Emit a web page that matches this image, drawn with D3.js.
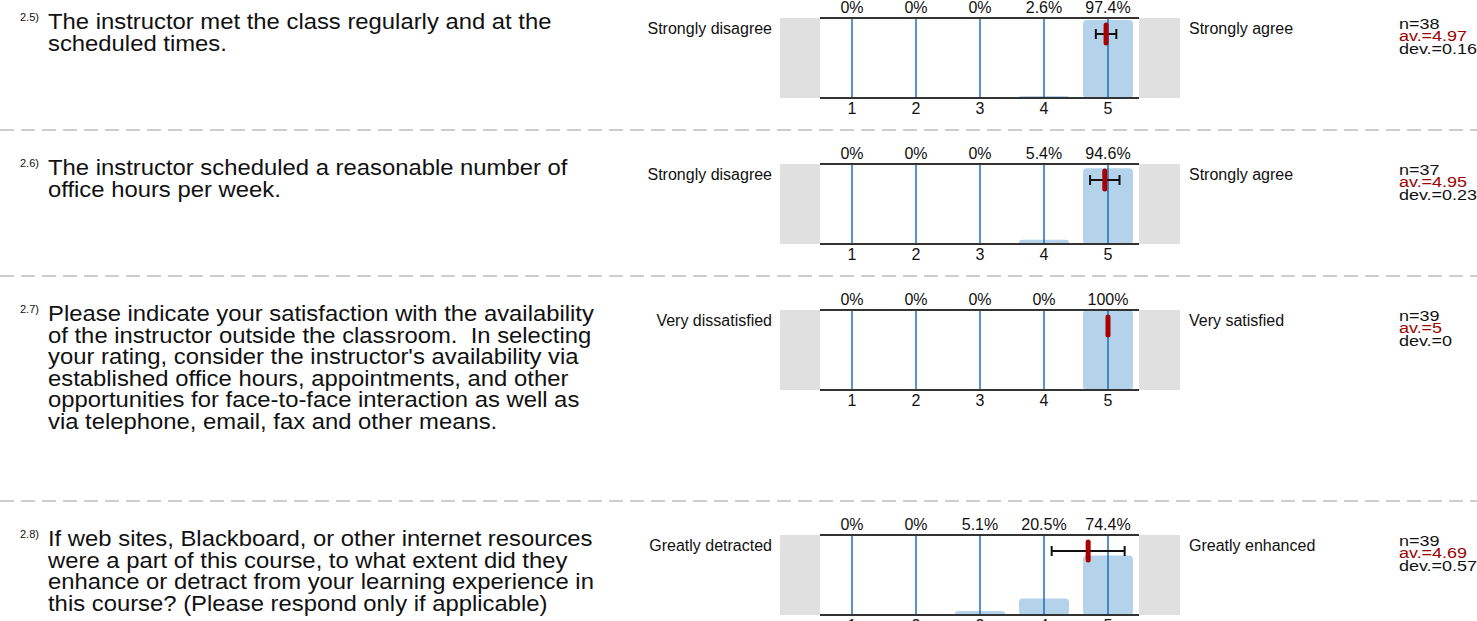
<!DOCTYPE html>
<html>
<head>
<meta charset="utf-8">
<script src="https://cdn.jsdelivr.net/npm/d3@7"></script>
<style>
  body { margin: 0; background: #fff; }
  svg { display: block; font-family: "Liberation Sans", Arial, sans-serif; }
  text { white-space: pre; }
</style>
</head>
<body>
<script>
  var w = 1477;
  var h = 621;

  // survey data
  var questionIds = ["2.5)", "2.6)", "2.7)", "2.8)"];
  var questions = [
    ["The instructor met the class regularly and at the", "scheduled times."],
    ["The instructor scheduled a reasonable number of", "office hours per week."],
    ["Please indicate your satisfaction with the availability",
     "of the instructor outside the classroom.  In selecting",
     "your rating, consider the instructor's availability via",
     "established office hours, appointments, and other",
     "opportunities for face-to-face interaction as well as",
     "via telephone, email, fax and other means."],
    ["If web sites, Blackboard, or other internet resources",
     "were a part of this course, to what extent did they",
     "enhance or detract from your learning experience in",
     "this course? (Please respond only if applicable)"]
  ];
  var leftLabels = ["Strongly disagree", "Strongly disagree", "Very dissatisfied", "Greatly detracted"];
  var rightLabels = ["Strongly agree", "Strongly agree", "Very satisfied", "Greatly enhanced"];
  var categories = [1, 2, 3, 4, 5];
  var percents = [
    [0, 0, 0, 2.6, 97.4],
    [0, 0, 0, 5.4, 94.6],
    [0, 0, 0, 0, 100],
    [0, 0, 5.1, 20.5, 74.4]
  ];
  var percentLabels = [
    ["0%", "0%", "0%", "2.6%", "97.4%"],
    ["0%", "0%", "0%", "5.4%", "94.6%"],
    ["0%", "0%", "0%", "0%", "100%"],
    ["0%", "0%", "5.1%", "20.5%", "74.4%"]
  ];
  var nValues = [38, 37, 39, 39];
  var means = [4.97, 4.95, 5, 4.69];
  var devs = [0.16, 0.23, 0, 0.57];

  // top of each row block (the separator sits at the top of rows 2..4)
  var rowTops = [-16, 130, 276, 501];
  var plotH = 80;

  var svg = d3.select("body").append("svg")
              .attr("width", w)
              .attr("height", h);

  var x = d3.scalePoint().domain(categories).range([852, 1108]);
  var xv = d3.scaleLinear().domain([1, 5]).range([852, 1108]);
  var y = d3.scaleLinear().domain([0, 100]).range([plotH, 0]);

  // dashed separators
  svg.selectAll("line.sep")
     .data(rowTops.slice(1))
     .enter()
     .append("line")
     .attr("class", "sep")
     .attr("x1", 0).attr("x2", w)
     .attr("y1", function(d){ return d; })
     .attr("y2", function(d){ return d; })
     .attr("stroke", "#bdbdbd")
     .attr("stroke-width", 1.5)
     .attr("stroke-dasharray", "14 7");

  var rows = svg.selectAll("g.row")
                .data(questions)
                .enter()
                .append("g")
                .attr("class", "row")
                .attr("transform", function(d, i){
                  return "translate(0," + (rowTops[i] + 34) + ")";
                });

  rows.each(function(q, i){
    var g = d3.select(this);

    // question number and text
    g.append("text")
     .attr("x", 20).attr("y", 3)
     .attr("font-size", "11px")
     .attr("fill", "#111")
     .text(questionIds[i]);

    g.selectAll("text.q")
     .data(q)
     .enter()
     .append("text")
     .attr("class", "q")
     .attr("transform", function(d, k){
       return "translate(48," + (11 + k * 21.5) + ") scale(1.06,1)";
     })
     .attr("font-size", "22.5px")
     .attr("fill", "#111")
     .text(function(d){ return d; });

    // grey side boxes and plot area
    g.append("rect")
     .attr("x", 780).attr("y", 0)
     .attr("width", 400).attr("height", plotH)
     .attr("fill", "#e0e0e0");
    g.append("rect")
     .attr("x", 820).attr("y", 0)
     .attr("width", 319).attr("height", plotH)
     .attr("fill", "#fff");

    // bars
    g.selectAll("rect.bar")
     .data(percents[i])
     .enter()
     .append("rect")
     .attr("class", "bar")
     .attr("x", function(d, k){ return x(categories[k]) - 25; })
     .attr("y", function(d){ return y(d); })
     .attr("width", 50)
     .attr("height", function(d){ return plotH - y(d); })
     .attr("rx", 4)
     .attr("fill", "#b4d3ea");

    // category lines
    g.selectAll("line.tick")
     .data(categories)
     .enter()
     .append("line")
     .attr("class", "tick")
     .attr("x1", function(d){ return x(d); })
     .attr("x2", function(d){ return x(d); })
     .attr("y1", 0).attr("y2", plotH)
     .attr("stroke", "#1f6db5")
     .attr("stroke-width", 1.5);

    // frame lines
    g.selectAll("line.frame")
     .data([0, plotH])
     .enter()
     .append("line")
     .attr("class", "frame")
     .attr("x1", 820).attr("x2", 1139)
     .attr("y1", function(d){ return d; })
     .attr("y2", function(d){ return d; })
     .attr("stroke", "#333")
     .attr("stroke-width", 2);

    // percent labels
    g.selectAll("text.pct")
     .data(percentLabels[i])
     .enter()
     .append("text")
     .attr("class", "pct")
     .attr("x", function(d, k){ return x(categories[k]); })
     .attr("y", -5)
     .attr("text-anchor", "middle")
     .attr("font-size", "16px")
     .attr("fill", "#111")
     .text(function(d){ return d; });

    // scale labels
    g.selectAll("text.cat")
     .data(categories)
     .enter()
     .append("text")
     .attr("class", "cat")
     .attr("x", function(d){ return x(d); })
     .attr("y", plotH + 16)
     .attr("text-anchor", "middle")
     .attr("font-size", "16px")
     .attr("fill", "#111")
     .text(function(d){ return d; });

    // pole labels
    g.append("text")
     .attr("x", 772).attr("y", 16)
     .attr("text-anchor", "end")
     .attr("font-size", "16px")
     .attr("fill", "#111")
     .text(leftLabels[i]);
    g.append("text")
     .attr("x", 1189).attr("y", 16)
     .attr("font-size", "16px")
     .attr("fill", "#111")
     .text(rightLabels[i]);

    // deviation bar
    var m = means[i], s = devs[i];
    if (s > 0) {
      g.append("line")
       .attr("x1", xv(m - s)).attr("x2", xv(m + s))
       .attr("y1", 16).attr("y2", 16)
       .attr("stroke", "#111").attr("stroke-width", 2);
      g.selectAll("line.cap")
       .data([m - s, m + s])
       .enter()
       .append("line")
       .attr("class", "cap")
       .attr("x1", function(d){ return xv(d); })
       .attr("x2", function(d){ return xv(d); })
       .attr("y1", 11).attr("y2", 21)
       .attr("stroke", "#111").attr("stroke-width", 2);
    }
    // mean marker
    g.append("line")
     .attr("x1", xv(m)).attr("x2", xv(m))
     .attr("y1", 7).attr("y2", 25)
     .attr("stroke", "#a80000")
     .attr("stroke-width", 5)
     .attr("stroke-linecap", "round");

    // stats
    var stats = [
      { t: "n=" + nValues[i], c: "#111" },
      { t: "av.=" + means[i], c: "#a00000" },
      { t: "dev.=" + devs[i], c: "#111" }
    ];
    g.selectAll("text.stat")
     .data(stats)
     .enter()
     .append("text")
     .attr("class", "stat")
     .attr("transform", function(d, k){
       return "translate(1399," + (10.5 + k * 12.5) + ") scale(1.16,1)";
     })
     .attr("font-size", "15.5px")
     .attr("fill", function(d){ return d.c; })
     .text(function(d){ return d.t; });
  });
</script>
</body>
</html>
